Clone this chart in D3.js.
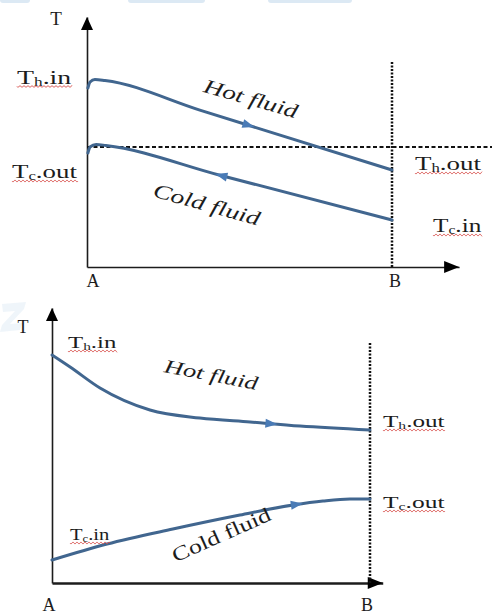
<!DOCTYPE html>
<html>
<head>
<meta charset="utf-8">
<script src="https://cdn.jsdelivr.net/npm/d3@7"></script>
<style>
  html, body { margin: 0; padding: 0; background: #fff; }
  svg { display: block; }
</style>
</head>
<body>
<div id="chart"></div>
<script>
const width = 492;
const height = 615;

// position along exchanger (A = 0, B = 1) vs temperature (arbitrary units)
const topHot = [[0.003, 89.5], [0.01, 92.5], [0.026, 93.75], [0.059, 93.25], [0.37, 78.45], [1, 48.5]];
const topCold = [[0.003, 57], [0.01, 60], [0.03, 61.25], [0.062, 60.75], [0.436, 45.9], [1, 23.5]];
const topRefLevel = 60; // dashed line at Tc,out

const bottomHot = [[0, 91.2], [0.057, 86.4], [0.151, 78], [0.308, 69.2], [0.465, 66], [0.623, 64.4], [0.78, 62.8], [1, 61.2]];
const bottomCold = [[0, 9.2], [0.173, 15.6], [0.38, 21.6], [0.591, 27.2], [0.758, 31.2], [0.852, 32.8], [0.937, 33.6], [1, 33.6]];

// arrow positions along the curves, and direction of flow
const topArrows = [0.53, 0.44];
const topDirs = [1, -1];
const bottomArrows = [0.69, 0.77];

const endLabels = ["A", "B"];
const fluidNames = ["Hot fluid", "Cold fluid"];
const topTempLabels = [["T", "h", ".in"], ["T", "c", ".out"], ["T", "h", ".out"], ["T", "c", ".in"]];
const bottomTempLabels = [["T", "h", ".in"], ["T", "c", ".in"], ["T", "h", ".out"], ["T", "c", ".out"]];

const lineColor = "#41668f";
const arrowColor = "#4a7bb6";
const inkColor = "#1c1c1c";

const svg = d3.select("#chart").append("svg")
    .attr("width", width)
    .attr("height", height);

// faint watermark blobs from the source image
const wm = svg.append("g").attr("fill", "#dce9f4");
[[0, 30], [128, 205], [268, 352]].forEach(d => {
    wm.append("rect").attr("x", d[0]).attr("y", -4).attr("width", d[1] - d[0]).attr("height", 7).attr("rx", 3);
});
wm.append("path").attr("d", "M2,304 L26,302 L24,309 L10,324 L22,323 L20,330 L0,332 L2,325 L15,311 L3,312 Z").attr("opacity", 0.45);

// ---------- scales ----------
const xTop = d3.scaleLinear().domain([0, 1.22]).range([87, 87 + 305 * 1.22]);
const yTop = d3.scaleLinear().domain([0, 125]).range([267, 17]);
const xBot = d3.scaleLinear().domain([0, 1.04]).range([52, 52 + 318 * 1.04]);
const yBot = d3.scaleLinear().domain([0, 110]).range([583, 308]);

function squiggle(g, x0, x1, y) {
    const pts = d3.range(x0, x1 + 0.5, 1).map(x => [x, y + 1.3 * Math.sin((x - x0) * Math.PI / 2)]);
    g.append("path")
        .attr("d", d3.line().curve(d3.curveBasis)(pts))
        .attr("fill", "none")
        .attr("stroke", "#d9534f")
        .attr("stroke-width", 1);
}

function tempLabel(g, parts, x, y, w, size) {
    const t = g.append("text")
        .attr("font-family", "Liberation Serif, serif")
        .attr("font-size", size)
        .attr("fill", inkColor);
    t.append("tspan").text(parts[0]);
    t.append("tspan").attr("font-size", size * 0.62).attr("dy", 2).text(parts[1]);
    t.append("tspan").attr("dy", -2).text(parts[2]);
    const bw = t.node().getBBox().width;
    t.attr("transform", `translate(${x},${y}) scale(${w / bw},1)`);
    squiggle(g, x, x + w, y + 3);
}

function fluidLabel(g, text, cx, cy, angle, len, size, italic) {
    g.append("text")
        .attr("transform", `translate(${cx},${cy}) rotate(${angle})`)
        .attr("text-anchor", "middle")
        .attr("font-family", "Liberation Serif, serif")
        .attr("font-style", italic ? "italic" : "normal")
        .attr("font-size", size)
        .attr("textLength", len)
        .attr("lengthAdjust", "spacingAndGlyphs")
        .attr("fill", inkColor)
        .text(text);
}

function arrowAt(g, node, xTarget, dir) {
    const total = node.getTotalLength();
    let lo = 0, hi = total;
    for (let i = 0; i < 30; i++) {
        const mid = (lo + hi) / 2;
        if (node.getPointAtLength(mid).x < xTarget) lo = mid; else hi = mid;
    }
    const p = node.getPointAtLength(lo);
    const a = node.getPointAtLength(Math.max(0, lo - 3));
    const b = node.getPointAtLength(Math.min(total, lo + 3));
    let ang = Math.atan2(b.y - a.y, b.x - a.x) * 180 / Math.PI;
    if (dir < 0) ang += 180;
    g.append("path")
        .attr("d", "M6,0L-6,-4.5L-6,4.5Z")
        .attr("transform", `translate(${p.x},${p.y}) rotate(${ang})`)
        .attr("fill", arrowColor);
}

function drawAxes(g, x, y, xEnd, yEnd, sw) {
    g.append("g")
        .attr("transform", `translate(0,${y(0)})`)
        .call(d3.axisBottom(x).tickValues([]).tickSizeOuter(0))
        .call(s => s.select(".domain").attr("stroke", inkColor).attr("stroke-width", sw));
    g.append("g")
        .attr("transform", `translate(${x(0)},0)`)
        .call(d3.axisLeft(y).tickValues([]).tickSizeOuter(0))
        .call(s => s.select(".domain").attr("stroke", inkColor).attr("stroke-width", 1.6));
    // arrowheads
    const xt = x(xEnd), yb = y(0);
    g.append("path").attr("d", `M${xt},${yb}L${xt - 15},${yb - 6}L${xt - 15},${yb + 6}Z`).attr("fill", "#000");
    const yt = y(yEnd), xa = x(0);
    g.append("path").attr("d", `M${xa},${yt}L${xa - 6},${yt + 13}L${xa + 6},${yt + 13}Z`).attr("fill", "#000");
}

const line = (x, y) => d3.line().x(d => x(d[0])).y(d => y(d[1])).curve(d3.curveMonotoneX);

// ================= top: counter-flow =================
const gTop = svg.append("g");
drawAxes(gTop, xTop, yTop, 1.22, 125, 1.6);

// dotted line at B
gTop.append("line")
    .attr("x1", xTop(1)).attr("x2", xTop(1))
    .attr("y1", yTop(0)).attr("y2", yTop(102.5))
    .attr("stroke", "#111").attr("stroke-width", 2.5).attr("stroke-dasharray", "2,1.5");
// dashed line at Tc,out level
gTop.append("line")
    .attr("x1", xTop(0)).attr("x2", width)
    .attr("y1", yTop(topRefLevel)).attr("y2", yTop(topRefLevel))
    .attr("stroke", "#111").attr("stroke-width", 2).attr("stroke-dasharray", "4,2.5");

[topHot, topCold].forEach((d, i) => {
    const p = gTop.append("path")
        .attr("d", line(xTop, yTop)(d))
        .attr("fill", "none")
        .attr("stroke", lineColor)
        .attr("stroke-width", 3)
        .attr("stroke-linecap", "round");
    arrowAt(gTop, p.node(), xTop(topArrows[i]), topDirs[i]);
});

gTop.append("text").attr("x", xTop(0) - 31).attr("y", yTop(125) + 8)
    .attr("text-anchor", "middle").attr("font-family", "Liberation Serif, serif")
    .attr("font-size", 19).attr("fill", inkColor).text("T");
gTop.selectAll(".end").data(endLabels).join("text")
    .attr("x", (d, i) => xTop(i) + (i ? 3 : 6))
    .attr("y", yTop(0) + 20)
    .attr("text-anchor", "middle").attr("font-family", "Liberation Serif, serif")
    .attr("font-size", 18).attr("fill", inkColor).text(d => d);

tempLabel(gTop, topTempLabels[0], 17, yTop(topHot[2][1]) + 4, 55, 19);
tempLabel(gTop, topTempLabels[1], 12, yTop(topRefLevel) + 31, 66, 19);
tempLabel(gTop, topTempLabels[2], 415, yTop(topHot[5][1]), 67, 19);
tempLabel(gTop, topTempLabels[3], 433, yTop(topCold[5][1]) + 12, 49, 19);

fluidLabel(gTop, fluidNames[0], 249, 105, 16, 97, 20, true);
fluidLabel(gTop, fluidNames[1], 205, 211, 15.5, 110, 20, true);

// ================= bottom: parallel flow =================
const gBot = svg.append("g");
drawAxes(gBot, xBot, yBot, 1.04, 110, 2.6);

gBot.append("line")
    .attr("x1", xBot(1)).attr("x2", xBot(1))
    .attr("y1", yBot(0)).attr("y2", yBot(96))
    .attr("stroke", "#111").attr("stroke-width", 2.5).attr("stroke-dasharray", "2,1.5");

[bottomHot, bottomCold].forEach((d, i) => {
    const p = gBot.append("path")
        .attr("d", line(xBot, yBot)(d))
        .attr("fill", "none")
        .attr("stroke", lineColor)
        .attr("stroke-width", 3)
        .attr("stroke-linecap", "round");
    arrowAt(gBot, p.node(), xBot(bottomArrows[i]), 1);
});

gBot.append("text").attr("x", xBot(0) - 29).attr("y", yBot(110) + 25)
    .attr("text-anchor", "middle").attr("font-family", "Liberation Serif, serif")
    .attr("font-size", 18).attr("fill", inkColor).text("T");
gBot.selectAll(".end").data(endLabels).join("text")
    .attr("x", (d, i) => xBot(i) - 3)
    .attr("y", yBot(0) + 28)
    .attr("text-anchor", "middle").attr("font-family", "Liberation Serif, serif")
    .attr("font-size", 18).attr("fill", inkColor).text(d => d);

tempLabel(gBot, bottomTempLabels[0], 68, yBot(bottomHot[0][1]) - 7, 49, 17);
tempLabel(gBot, bottomTempLabels[1], 70, yBot(bottomCold[0][1]) - 20, 40, 17);
tempLabel(gBot, bottomTempLabels[2], 383, yBot(bottomHot[7][1]) - 3, 62, 17);
tempLabel(gBot, bottomTempLabels[3], 383, yBot(bottomCold[7][1]) + 9, 62, 17);

fluidLabel(gBot, fluidNames[0], 210, 381, 11, 95, 19, true);
fluidLabel(gBot, fluidNames[1], 224, 541, -24, 106, 20, false);
</script>
</body>
</html>
